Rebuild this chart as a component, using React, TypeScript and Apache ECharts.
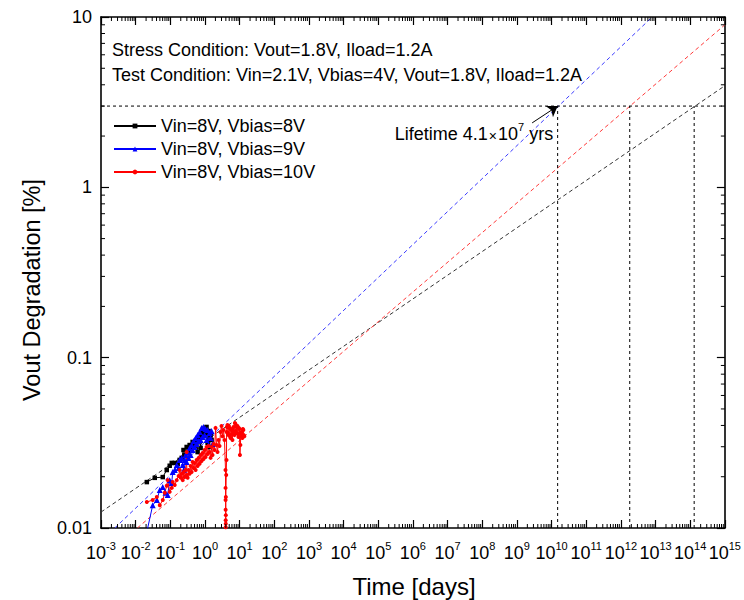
import React, { useEffect, useRef } from "react";
import * as echarts from "echarts";

const FONT = '"Liberation Sans", Arial, Helvetica, sans-serif';

// Measured degradation, time in days and Vout degradation in %
const blackTime = [0.021, 0.0356, 0.0605, 0.0788, 0.096, 0.11, 0.134, 0.163, 0.186, 0.213, 0.24, 0.259, 0.296, 0.316, 0.361, 0.412, 0.44, 0.502, 0.574, 0.613, 0.66, 0.7, 0.75, 0.798, 0.853, 0.91, 0.975, 1.04, 1.11, 1.19, 1.27, 1.36, 1.45, 1.55];
const blackDeg = [0.0186, 0.0197, 0.0199, 0.0219, 0.0232, 0.0241, 0.0241, 0.0238, 0.0251, 0.0258, 0.0287, 0.0268, 0.0299, 0.0279, 0.0307, 0.0295, 0.032, 0.0303, 0.0329, 0.0279, 0.0342, 0.0351, 0.0295, 0.0366, 0.0376, 0.0346, 0.0387, 0.0361, 0.0392, 0.0316, 0.0371, 0.0299, 0.0351, 0.0329];

const blueTime = [0.022, 0.031, 0.0407, 0.0496, 0.0605, 0.073, 0.084, 0.096, 0.11, 0.117, 0.134, 0.153, 0.174, 0.186, 0.213, 0.228, 0.244, 0.259, 0.277, 0.296, 0.316, 0.338, 0.361, 0.386, 0.412, 0.44, 0.47, 0.502, 0.537, 0.574, 0.613, 0.655, 0.7, 0.748, 0.798, 0.853, 0.91, 0.975, 1.04, 1.11, 1.19, 1.27, 1.36, 1.45, 1.55, 1.65];
const blueDeg = [0.0099, 0.0136, 0.0146, 0.0167, 0.0174, 0.0161, 0.0156, 0.0191, 0.0184, 0.0213, 0.0219, 0.0234, 0.0225, 0.0251, 0.0258, 0.0234, 0.0219, 0.0251, 0.0268, 0.0244, 0.0279, 0.0258, 0.0295, 0.0268, 0.0307, 0.0287, 0.0324, 0.0299, 0.0338, 0.0311, 0.0351, 0.0324, 0.0366, 0.0329, 0.0387, 0.0342, 0.0392, 0.0351, 0.0381, 0.0329, 0.0376, 0.0307, 0.0361, 0.0338, 0.0371, 0.0311];

const redTime = [0.021, 0.031, 0.0407, 0.0496, 0.0605, 0.069, 0.0788, 0.084, 0.096, 0.11, 0.117, 0.134, 0.153, 0.174, 0.186, 0.2, 0.213, 0.228, 0.244, 0.259, 0.277, 0.296, 0.3, 0.316, 0.338, 0.361, 0.386, 0.412, 0.44, 0.47, 0.502, 0.537, 0.574, 0.613, 0.655, 0.7, 0.748, 0.798, 0.853, 0.91, 0.975, 1.04, 1.11, 1.19, 1.27, 1.36, 1.45, 1.55, 1.65, 1.77, 1.89, 2.02, 2.15, 2.3, 2.46, 2.63, 2.81, 3.0, 3.2, 3.42, 3.66, 3.91, 3.92, 3.93, 3.94, 3.95, 3.96, 3.97, 3.98, 3.99, 4.0, 4.1, 4.18, 4.2, 4.3, 4.46, 4.6, 4.77, 4.9, 5.09, 5.25, 5.45, 5.6, 5.81, 6.0, 6.2, 6.4, 6.63, 6.85, 7.09, 7.3, 7.58, 7.8, 8.09, 8.35, 8.65, 8.9, 9.24, 9.5, 9.87, 10.2, 10.5, 10.9, 11.3, 11.6, 12.0, 12.4, 12.8, 13.2, 13.7];
const redDeg = [0.0142, 0.0146, 0.0152, 0.0136, 0.0146, 0.0161, 0.0177, 0.0191, 0.0163, 0.0172, 0.0186, 0.0179, 0.0191, 0.0202, 0.0219, 0.0197, 0.0208, 0.0191, 0.0213, 0.0199, 0.0219, 0.0279, 0.0205, 0.0197, 0.0219, 0.0208, 0.0231, 0.0213, 0.0244, 0.0225, 0.0241, 0.0219, 0.0251, 0.0231, 0.0258, 0.0238, 0.0268, 0.0247, 0.0276, 0.0254, 0.0287, 0.0261, 0.0299, 0.0272, 0.0303, 0.0279, 0.0258, 0.0299, 0.0268, 0.0311, 0.0287, 0.0387, 0.0307, 0.0279, 0.0329, 0.0303, 0.0366, 0.0397, 0.0346, 0.0376, 0.0329, 0.0219, 0.0172, 0.0146, 0.0128, 0.0111, 0.0101, 0.0092, 0.0106, 0.0119, 0.0152, 0.0205, 0.0251, 0.0366, 0.0392, 0.0403, 0.0361, 0.0351, 0.0397, 0.0387, 0.0346, 0.0338, 0.0381, 0.0376, 0.0356, 0.0329, 0.0371, 0.0392, 0.0361, 0.0351, 0.0414, 0.0408, 0.0371, 0.0361, 0.0392, 0.0397, 0.0356, 0.0342, 0.0387, 0.0381, 0.0268, 0.0307, 0.0356, 0.0366, 0.0342, 0.0338, 0.0381, 0.0376, 0.0351, 0.0346];

// Power-law extrapolations (straight lines on log-log axes)
const blackFitTime = [1e-3, 1e15];
const blackFitDeg = [0.0124, 3.95];
const blueFitTime = [0.0025, 8e12];
const blueFitDeg = [0.01, 10];
const redFitTime = [0.0112, 1e15];
const redFitDeg = [0.01, 9.0];

// Failure criterion and extrapolated lifetimes (days)
const failLevel = 3;
const lifetimeYears = 4.1e7;
const blueLifetime = lifetimeYears * 365;
const redLifetime = 1.8e12;
const blackLifetime = 1.3e14;

const xRange = [1e-3, 1e15];
const yRange = [0.01, 10];
const xExponents = { min: -3, max: 15 };

const seriesNames = ["Vin=8V, Vbias=8V", "Vin=8V, Vbias=9V", "Vin=8V, Vbias=10V"];
const stressText = "Stress Condition: Vout=1.8V, Iload=1.2A";
const testText = "Test Condition: Vin=2.1V, Vbias=4V, Vout=1.8V, Iload=1.2A";

const zip = (xs: number[], ys: number[]) => xs.map((x, i) => [x, ys[i]]);

function minorPositions(loExp: number, hiExp: number) {
  const out: number[] = [];
  for (let e = loExp; e < hiExp; e++) {
    for (let m = 2; m <= 9; m++) out.push(m * Math.pow(10, e));
  }
  return out;
}

export default function App() {
  const ref = useRef<HTMLDivElement>(null);

  useEffect(() => {
    if (!ref.current) return;
    const chart = echarts.init(ref.current, undefined, { renderer: "svg" });

    const axisLine = { show: true, onZero: false, lineStyle: { color: "#000", width: 1.6 } };
    const majorTick = { show: true, inside: true, length: 8, lineStyle: { color: "#000", width: 1.2 } };
    const tickStyle = { stroke: "#000", lineWidth: 1 };

    const fit = (xs: number[], ys: number[], color: string) => ({
      type: "line",
      xAxisIndex: 0,
      yAxisIndex: 0,
      data: zip(xs, ys),
      symbol: "none",
      silent: true,
      lineStyle: { color, width: 1, type: [4, 3] },
      z: 1,
    });
    const guide = (xs: number[], ys: number[]) => ({
      type: "line",
      xAxisIndex: 0,
      yAxisIndex: 0,
      data: zip(xs, ys),
      symbol: "none",
      silent: true,
      lineStyle: { color: "#000", width: 1, type: [3, 3] },
      z: 1,
    });
    const measured = (name: string, xs: number[], ys: number[], color: string, symbol: string, size: number) => ({
      name,
      type: "line",
      xAxisIndex: 0,
      yAxisIndex: 0,
      data: zip(xs, ys),
      symbol,
      symbolSize: size,
      showAllSymbol: true,
      lineStyle: { color, width: 1 },
      itemStyle: { color },
      z: 3,
    });

    const option: any = {
      animation: false,
      textStyle: { fontFamily: FONT },
      grid: { left: 101, right: 16, top: 17, bottom: 72, containLabel: false },
      legend: {
        data: seriesNames,
        orient: "vertical",
        left: 113,
        top: 117,
        padding: 0,
        itemWidth: 42,
        itemHeight: 6,
        itemGap: 5,
        textStyle: { fontSize: 18, color: "#000", fontFamily: FONT },
      },
      xAxis: [
        { type: "log", logBase: 10, min: xRange[0], max: xRange[1], show: false },
        {
          type: "value",
          position: "bottom",
          min: xExponents.min,
          max: xExponents.max,
          interval: 1,
          axisLine,
          axisTick: majorTick,
          splitLine: { show: false },
          axisLabel: {
            margin: 12,
            formatter: (v: number) => `{b|10}{s|${v}}`,
            rich: {
              b: { fontSize: 18, color: "#000", fontFamily: FONT, lineHeight: 22, verticalAlign: "bottom" },
              s: { fontSize: 11, color: "#000", fontFamily: FONT, lineHeight: 11, verticalAlign: "top" },
            },
          },
        },
        {
          type: "value",
          position: "top",
          min: xExponents.min,
          max: xExponents.max,
          interval: 1,
          axisLine,
          axisTick: majorTick,
          splitLine: { show: false },
          axisLabel: { show: false },
        },
      ],
      yAxis: [
        {
          type: "log",
          logBase: 10,
          min: yRange[0],
          max: yRange[1],
          position: "left",
          axisLine,
          axisTick: majorTick,
          splitLine: { show: false },
          axisLabel: {
            fontSize: 18,
            color: "#000",
            fontFamily: FONT,
            margin: 9,
            formatter: (v: number) => String(Number(v.toPrecision(2))),
          },
        },
        {
          type: "log",
          logBase: 10,
          min: yRange[0],
          max: yRange[1],
          position: "right",
          axisLine,
          axisTick: majorTick,
          splitLine: { show: false },
          axisLabel: { show: false },
        },
      ],
      graphic: [
        { type: "text", x: 112, y: 50, style: { text: stressText, fontSize: 18, fontFamily: FONT, fill: "#000", verticalAlign: "middle" } },
        { type: "text", x: 112, y: 75, style: { text: testText, fontSize: 18, fontFamily: FONT, fill: "#000", verticalAlign: "middle" } },
        { type: "text", x: 414, y: 586, style: { text: "Time [days]", fontSize: 24, fontFamily: FONT, fill: "#000", align: "center", verticalAlign: "middle" } },
        {
          type: "text",
          x: 32,
          y: 290,
          rotation: Math.PI / 2,
          style: { text: "Vout Degradation [%]", fontSize: 23.5, fontFamily: FONT, fill: "#000", align: "center", verticalAlign: "middle" },
        },
      ],
      series: [
        fit(blackFitTime, blackFitDeg, "#333333"),
        fit(blueFitTime, blueFitDeg, "#3b3bff"),
        fit(redFitTime, redFitDeg, "#ff3b3b"),
        guide(xRange, [failLevel, failLevel]),
        guide([blueLifetime, blueLifetime], [yRange[0], failLevel]),
        guide([redLifetime, redLifetime], [yRange[0], failLevel]),
        guide([blackLifetime, blackLifetime], [yRange[0], failLevel]),
        measured(seriesNames[0], blackTime, blackDeg, "#000000", "rect", 4.5),
        measured(seriesNames[1], blueTime, blueDeg, "#0000ff", "triangle", 6),
        measured(seriesNames[2], redTime, redDeg, "#ff0000", "circle", 4),
        {
          type: "lines",
          coordinateSystem: "cartesian2d",
          xAxisIndex: 0,
          yAxisIndex: 0,
          silent: true,
          symbol: ["none", "arrow"],
          symbolSize: 10,
          lineStyle: { color: "#000", width: 1, opacity: 1 },
          data: [{ coords: [[2.75e9, 2.39], [blueLifetime, failLevel]] }],
          z: 4,
        },
        {
          type: "scatter",
          xAxisIndex: 0,
          yAxisIndex: 0,
          symbolSize: 0,
          silent: true,
          itemStyle: { opacity: 1 },
          data: [[3.0e5, 2.1]],
          label: {
            show: true,
            position: "right",
            distance: 0,
            opacity: 1,
            color: "#000",
            formatter: "{n|Lifetime 4.1}{m|×}{n|10}{s|7}{n| yrs}",
            rich: {
              n: { fontSize: 18, color: "#000", fontFamily: FONT, lineHeight: 22, verticalAlign: "bottom" },
              m: { fontSize: 14, color: "#000", fontFamily: FONT, lineHeight: 20, verticalAlign: "bottom", padding: [0, 1, 0, 1] },
              s: { fontSize: 11, color: "#000", fontFamily: FONT, lineHeight: 11, verticalAlign: "top" },
            },
          },
          z: 4,
        },
        {
          type: "custom",
          xAxisIndex: 0,
          yAxisIndex: 0,
          silent: true,
          data: minorPositions(-3, 15).map((v) => [v, yRange[0]]),
          renderItem: (params: any, api: any) => {
            const cs = params.coordSys;
            const px = api.coord([api.value(0), api.value(1)])[0];
            const bottom = cs.y + cs.height;
            return {
              type: "group",
              children: [
                { type: "line", shape: { x1: px, y1: bottom, x2: px, y2: bottom - 4 }, style: tickStyle },
                { type: "line", shape: { x1: px, y1: cs.y, x2: px, y2: cs.y + 4 }, style: tickStyle },
              ],
            };
          },
          z: 5,
        },
        {
          type: "custom",
          xAxisIndex: 0,
          yAxisIndex: 0,
          silent: true,
          data: minorPositions(-2, 1).map((v) => [xRange[0], v]),
          renderItem: (params: any, api: any) => {
            const cs = params.coordSys;
            const py = api.coord([api.value(0), api.value(1)])[1];
            const right = cs.x + cs.width;
            return {
              type: "group",
              children: [
                { type: "line", shape: { x1: cs.x, y1: py, x2: cs.x + 4, y2: py }, style: tickStyle },
                { type: "line", shape: { x1: right, y1: py, x2: right - 4, y2: py }, style: tickStyle },
              ],
            };
          },
          z: 5,
        },
      ],
    };

    chart.setOption(option);
    return () => chart.dispose();
  }, []);

  return (
    <div
      ref={ref}
      style={{ position: "absolute", left: 0, top: 0, width: 744, height: 600, background: "#fff" }}
    />
  );
}
